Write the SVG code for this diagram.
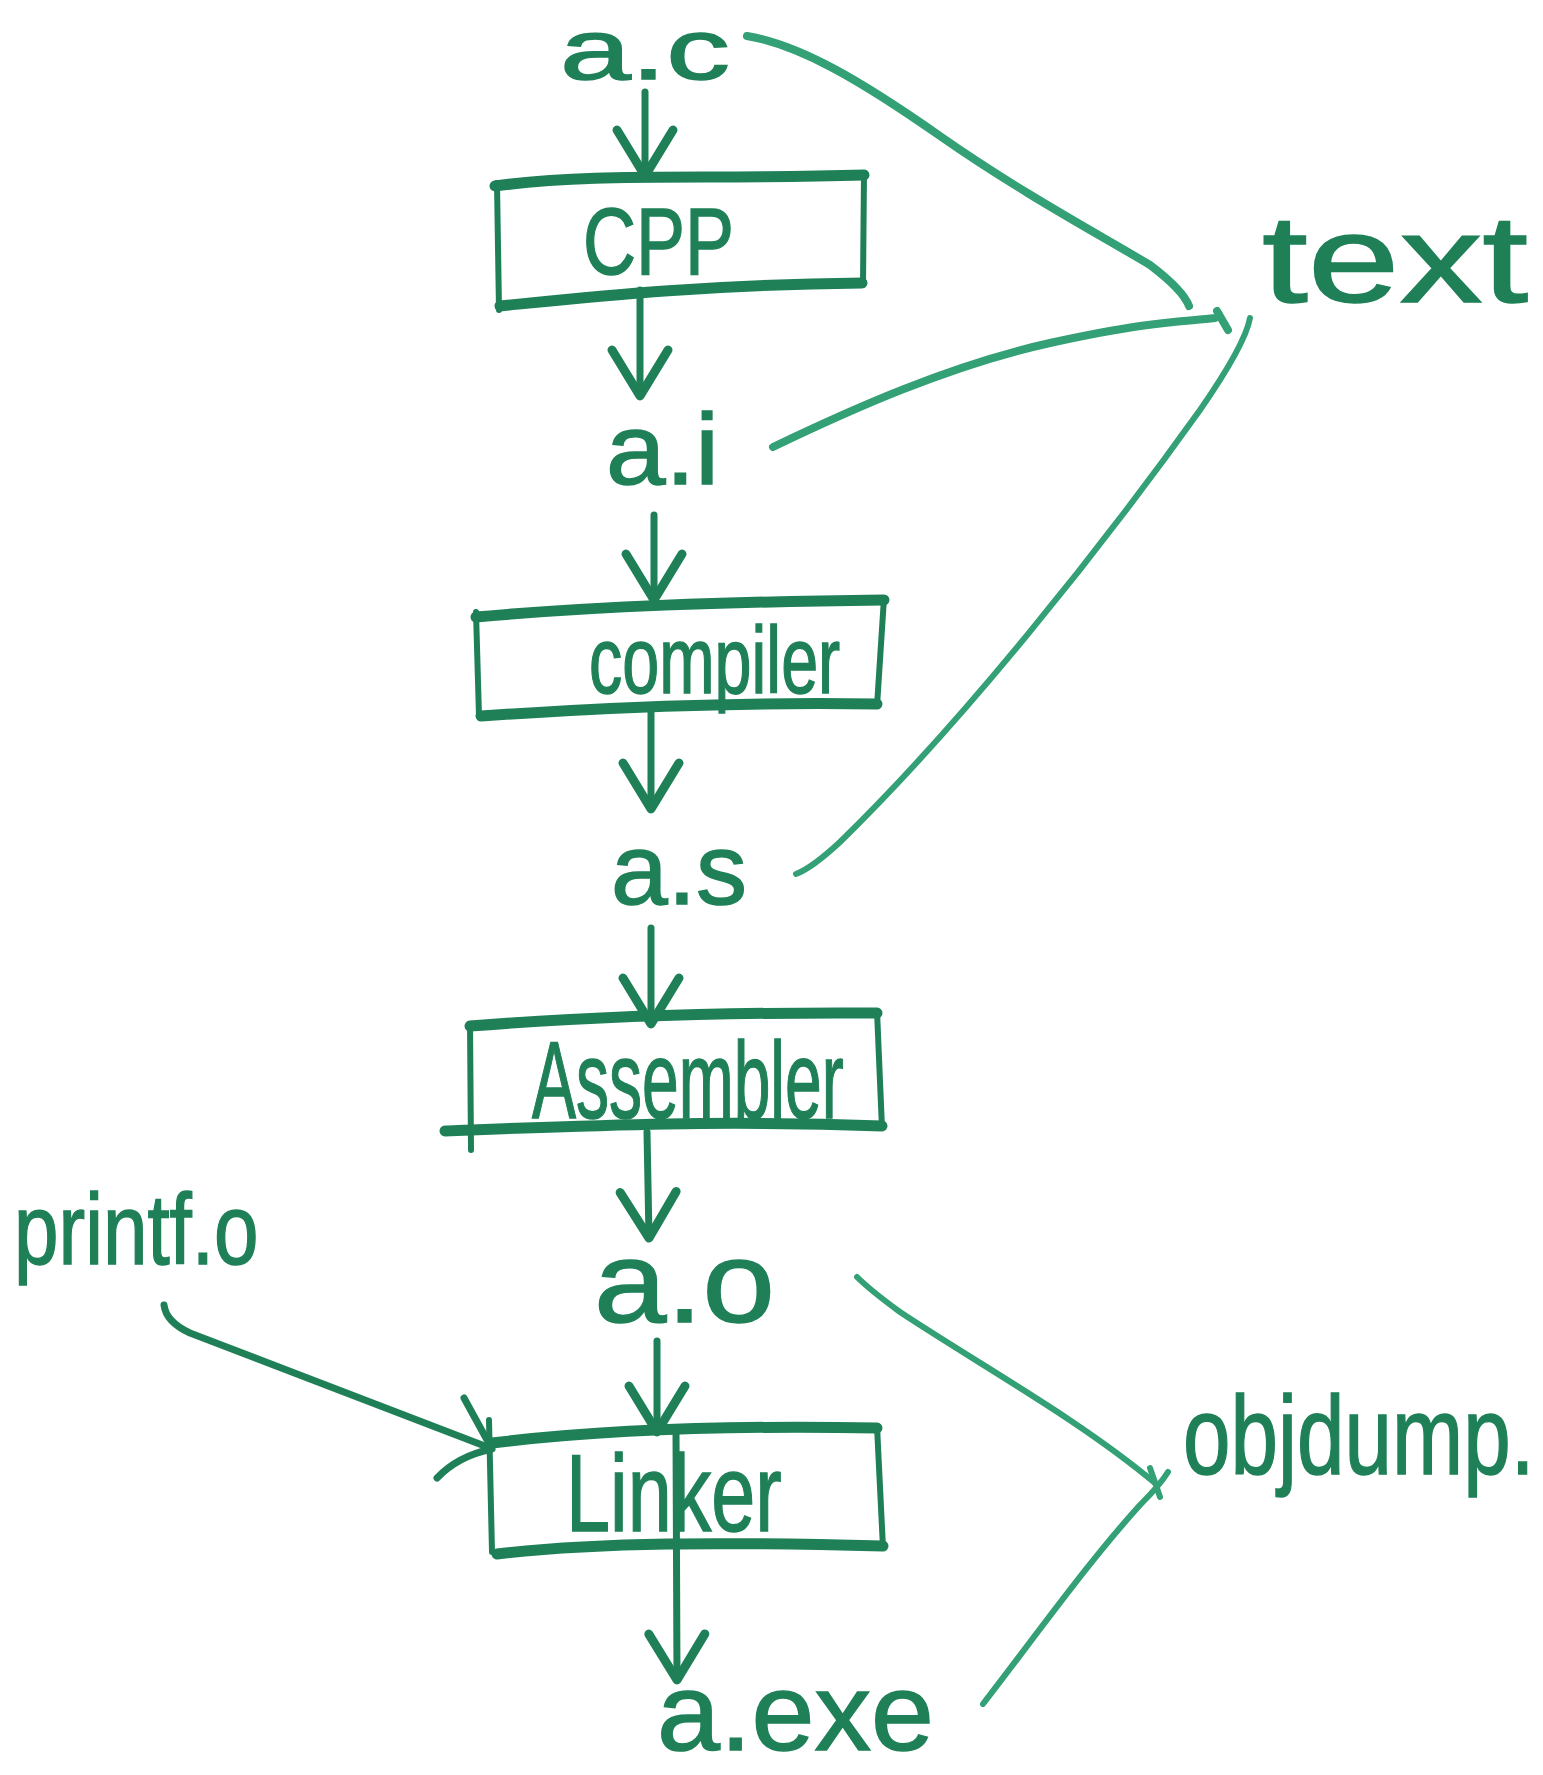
<svg xmlns="http://www.w3.org/2000/svg" width="1543" height="1775" viewBox="0 0 1543 1775">
<style>
  .lbl { font-family: "Liberation Sans", Arial, sans-serif; fill: #1f8058; stroke: #1f8058; stroke-width: 1.5; }
  .eh { fill: none; stroke: #1f8058; stroke-width: 11; stroke-linejoin: round; stroke-linecap: round; }
  .ev { fill: none; stroke: #1f8058; stroke-width: 6; stroke-linecap: round; }
  .arr { fill: none; stroke: #1f8058; stroke-width: 7; stroke-linecap: round; stroke-linejoin: round; }
  .link { fill: none; stroke: #33a075; stroke-width: 8; stroke-linecap: round; stroke-linejoin: round; }
  .thin { stroke-width: 6; }
</style>
<defs>
  <marker id="vhead" markerUnits="userSpaceOnUse" viewBox="-52 -36 60 72" markerWidth="60" markerHeight="72" refX="0" refY="0" orient="auto" overflow="visible">
    <path d="M-46,-28 L0,0 L-46,28" fill="none" stroke="#1f8058" stroke-width="9" stroke-linecap="round" stroke-linejoin="round"/>
  </marker>
</defs>

<g id="connectors">
  <path class="arr" d="M645,92 L645,176" marker-end="url(#vhead)"/>
  <path class="arr" d="M640,290 L640,396" marker-end="url(#vhead)"/>
  <path class="arr" d="M654,515 L654,600" marker-end="url(#vhead)"/>
  <path class="arr" d="M651,713 L651,809" marker-end="url(#vhead)"/>
  <path class="arr" d="M651,928 L651,1024" marker-end="url(#vhead)"/>
  <path class="arr" d="M647,1132 L649,1238" marker-end="url(#vhead)"/>
  <path class="arr" d="M657,1341 L657,1432" marker-end="url(#vhead)"/>
  <path class="arr" d="M676,1432 L677,1680" marker-end="url(#vhead)"/>
  <path class="arr" d="M164,1305 Q166,1322 190,1333 L490,1448"/>
  <path class="arr" d="M464,1398 L492,1449 M437,1478 Q458,1456 492,1449"/>
  <path class="link" d="M747,36 C800,45 860,80 940,136 S1100,235 1150,265 Q1183,290 1189,306"/>
  <path class="link" d="M773,447 C850,410 950,365 1050,343 S1180,322 1215,318 M1217,311 L1228,330"/>
  <path class="link thin" d="M796,874 Q812,868 840,842 C960,725 1100,550 1200,410 Q1245,345 1250,318"/>
  <path class="link thin" d="M857,1277 Q870,1290 900,1312 C980,1365 1080,1420 1155,1483"/>
  <path class="link thin" d="M983,1704 C1040,1630 1090,1560 1140,1505 Q1160,1485 1168,1472 M1150,1468 L1160,1497"/>
</g>

<g id="node-ac"><text class="lbl" x="560" y="79" font-size="86" textLength="170" lengthAdjust="spacingAndGlyphs">a.c</text></g>

<g id="node-cpp">
  <path class="eh" d="M495,186 C600,172 700,180 864,175 M500,306 C600,296 700,285 862,283"/>
  <path class="ev" d="M864,173 L863,285 M497,183 L499,310"/>
  <text class="lbl" x="583" y="274" font-size="95" textLength="151" lengthAdjust="spacingAndGlyphs">CPP</text>
</g>

<g id="node-ai"><text class="lbl" x="606" y="484" font-size="100" textLength="113" lengthAdjust="spacingAndGlyphs">a.i</text></g>

<g id="node-compiler">
  <path class="eh" d="M476,617 C600,606 720,602 884,600 M481,716 C600,708 720,702 877,704"/>
  <path class="ev" d="M884,598 L877,706 M476,612 L479,716"/>
  <text class="lbl" transform="translate(589,693) scale(0.7,1)" x="0" y="0" font-size="95">compiler</text>
</g>

<g id="node-as"><text class="lbl" x="611" y="904" font-size="100" textLength="136" lengthAdjust="spacingAndGlyphs">a.s</text></g>

<g id="node-assembler">
  <path class="eh" d="M470,1026 C600,1016 720,1012 877,1013 M445,1131 C600,1125 720,1120 882,1126"/>
  <path class="ev" d="M877,1011 L882,1128 M470,1024 L471,1150"/>
  <text class="lbl" transform="translate(532,1118) scale(0.6,1)" x="0" y="0" font-size="110">Assembler</text>
</g>

<g id="node-ao"><text class="lbl" x="594" y="1322" font-size="115" textLength="181" lengthAdjust="spacingAndGlyphs">a.o</text></g>

<g id="node-linker">
  <path class="eh" d="M492,1443 C600,1430 720,1425 877,1428 M497,1554 C600,1542 720,1542 883,1546"/>
  <path class="ev" d="M877,1426 L883,1548 M489,1420 L492,1552"/>
  <text class="lbl" transform="translate(566,1531) scale(0.72,1)" x="0" y="0" font-size="110">Linker</text>
</g>

<g id="node-aexe"><text class="lbl" x="657" y="1750" font-size="110" textLength="277" lengthAdjust="spacingAndGlyphs">a.exe</text></g>

<g id="node-printf"><text class="lbl" transform="translate(14,1264) scale(0.8,1)" x="0" y="0" font-size="100">printf.o</text></g>

<g id="node-text"><text class="lbl" x="1262" y="302" font-size="125" textLength="266" lengthAdjust="spacingAndGlyphs">text</text></g>

<g id="node-objdump"><text class="lbl" transform="translate(1183,1474) scale(0.763,1)" x="0" y="0" font-size="112">objdump.</text></g>
</svg>
